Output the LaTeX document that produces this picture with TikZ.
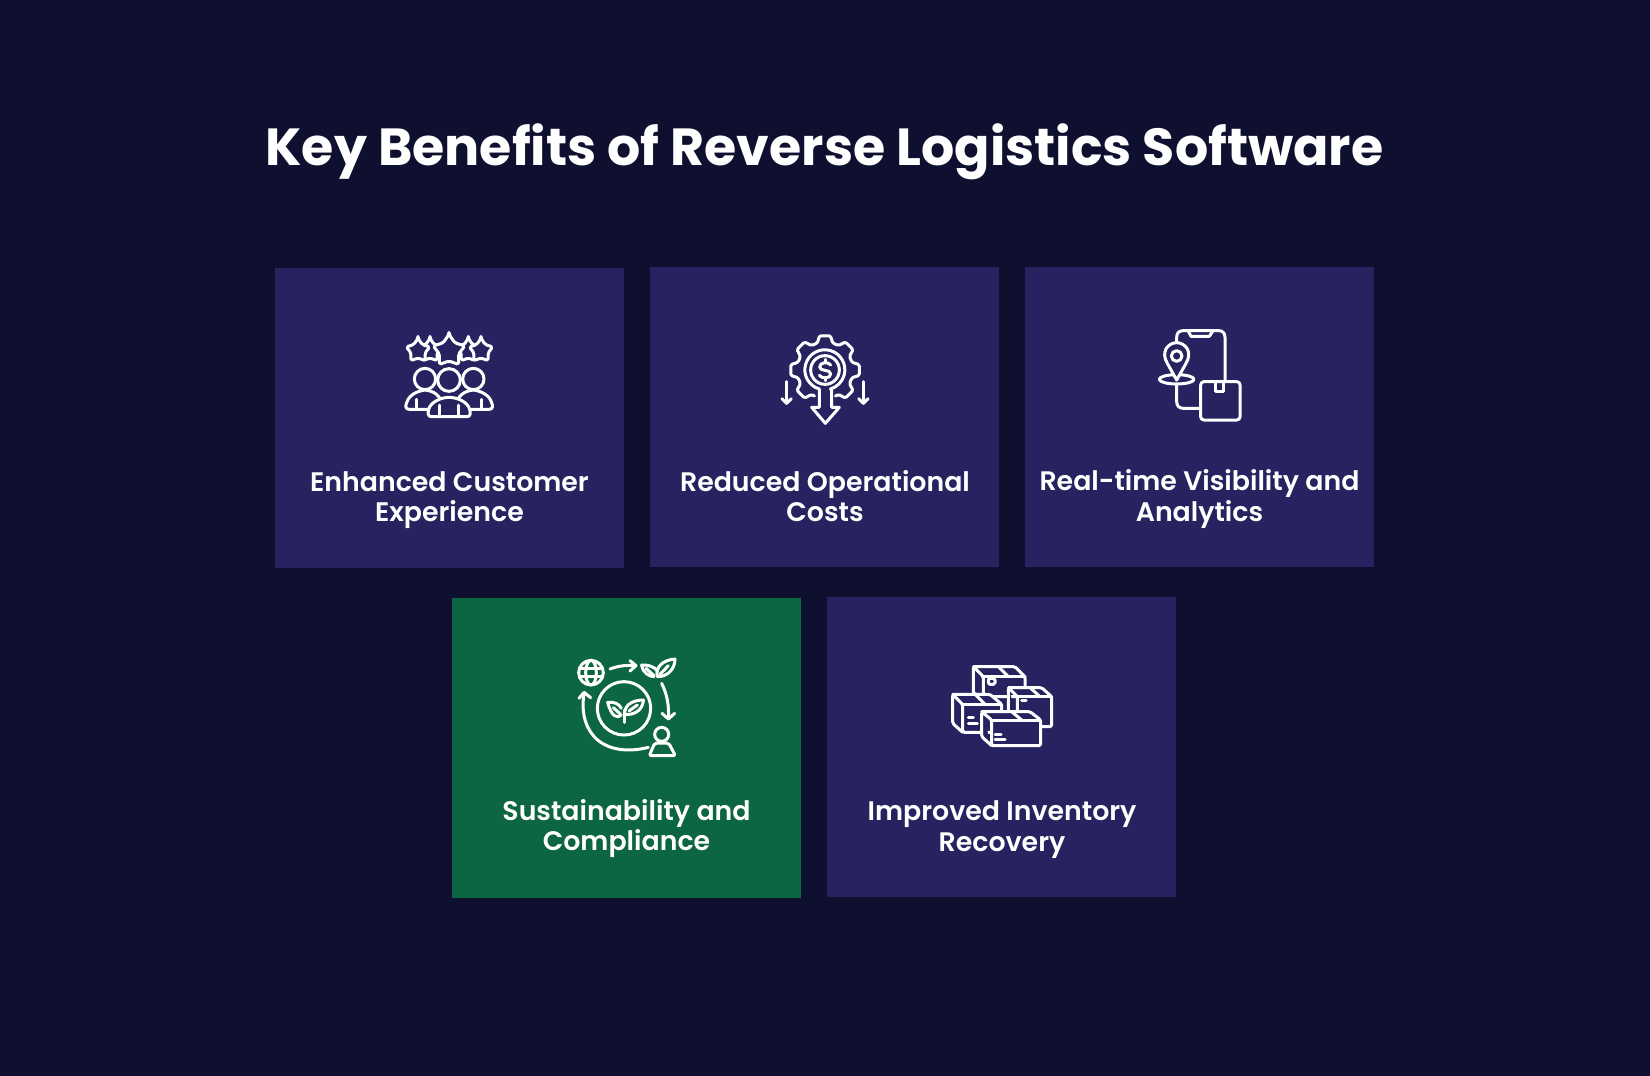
\documentclass[tikz,border=0pt]{standalone}
\usepackage{fontspec}
\setmainfont{Poppins}[BoldFont={Poppins SemiBold}]
\newfontfamily\titlefont{Poppins}[UprightFont={* Bold}]
\definecolor{pagebg}{RGB}{15,15,48}
\definecolor{cardblue}{RGB}{39,35,96}
\definecolor{cardgreen}{RGB}{13,102,66}
\usetikzlibrary{calc}
\tikzset{
  card/.style={minimum width=174.5pt,minimum height=150pt,inner sep=0pt},
  cardlabel/.style={text=white,align=center,inner sep=0pt,font=\fontsize{13.4}{15.25}\selectfont\bfseries},
  icon/.style={x=0.16667pt,y=-0.16667pt,draw=white,line width=1.5pt,line cap=round,line join=round},
}
% star centred at #1,#2 with radius #3
\newcommand{\ratestar}[3]{\draw[fill=cardblue,rounded corners=0.9pt] ($(#1,#2)+(-90:#3)$)
  \foreach \k in {0,...,4}{ -- ($(#1,#2)+({-90+72*\k}:#3)$) -- ($(#1,#2)+({-54+72*\k}:{#3*0.6})$)} -- cycle;}
\begin{document}
\begin{tikzpicture}[x=0.5pt,y=-0.5pt]
	\useasboundingbox (0,0) rectangle (1650,1076);
	\fill[pagebg] (0,0) rectangle (1650,1076);
	\node[text=white,inner sep=0pt,font=\fontsize{26.1}{30}\titlefont] (title) at (824.5,152) {Key Benefits of Reverse Logistics Software};

	\node[card,fill=cardblue] (customer) at (449.5,418) {};
	\node[card,fill=cardblue] (costs) at (824.5,417) {};
	\node[card,fill=cardblue] (visibility) at (1199.5,417) {};
	\node[card,fill=cardgreen] (sustain) at (626.5,748) {};
	\node[card,fill=cardblue] (inventory) at (1001.5,747) {};

	\node[cardlabel] (customerlabel) at (449.5,500) {Enhanced Customer\\Experience};
	\node[cardlabel] (costslabel) at (825,496) {Reduced Operational\\Costs};
	\node[cardlabel] (visibilitylabel) at (1199.5,499) {Real-time Visibility and\\Analytics};
	\node[cardlabel] (sustainlabel) at (626.5,828.5) {Sustainability and\\Compliance};
	\node[cardlabel] (inventorylabel) at (1002,829.5) {Improved Inventory\\Recovery};

	% stars and people
	\begin{scope}[shift={(380,310)},icon]
	\ratestar{150}{122}{37}
	\ratestar{265}{122}{37}
	\ratestar{114}{122}{37}
	\ratestar{303}{122}{37}
	\ratestar{207}{123}{50}
	\draw[fill=cardblue] (110,298) -- (88,298) .. controls (76,298) and (76,288) .. (80,278) .. controls (88,252) and (115,243) .. (135,240) .. controls (158,243) and (185,252) .. (190,298) -- cycle;
	\draw[fill=cardblue] (305,298) -- (327,298) .. controls (339,298) and (339,288) .. (335,278) .. controls (327,252) and (300,243) .. (280,240) .. controls (257,243) and (230,252) .. (225,298) -- cycle;
	\draw (110,268) -- (110,296);
	\draw (305,268) -- (305,296);
	\draw[fill=cardblue] (135,207) circle (32);
	\draw[fill=cardblue] (280,207) circle (32);
	\draw[fill=cardblue] (155,320) .. controls (143,320) and (143,310) .. (146,298) .. controls (152,275) and (185,262) .. (207,262) .. controls (230,262) and (263,275) .. (269,298) .. controls (272,310) and (272,320) .. (260,320) -- cycle;
	\draw (178,285) -- (178,318);
	\draw (235,285) -- (235,318);
	\draw[fill=cardblue] (207,210) circle (34);
	\end{scope}

	% gear, coin and arrows
	\begin{scope}[shift={(760,320)},icon]
	\begin{scope}[shift={(195,150)},rounded corners=0.7pt]
	\draw (112:84) \foreach \a in {135,180,225,270,315,360,405}{ -- ({\a-16}:84) -- ({\a-9}:104) -- ({\a+9}:104) -- ({\a+16}:84)} -- (428:84);
	\end{scope}
	\draw (178,207) arc[start angle=106,end angle=434,radius=60];
	\draw (195,150) circle (43);
	\draw (212,135) .. controls (205,124) and (179,126) .. (179,141) .. controls (179,156) and (212,146) .. (212,162) .. controls (212,176) and (186,178) .. (178,166);
	\draw (195,118) -- (195,127);
	\draw (195,173) -- (195,182);
	\draw (178,207) -- (178,262) -- (155,262) -- (196,310) -- (238,262) -- (215,262) -- (215,207);
	\draw (80,185) -- (80,250);
	\draw (66,236) -- (80,250) -- (94,236);
	\draw (310,185) -- (310,250);
	\draw (296,236) -- (310,250) -- (324,236);
	\end{scope}

	% phone, pin and parcel
	\begin{scope}[shift={(1140,320)},icon]
	\draw (110,70) -- (110,52) .. controls (110,38) and (118,32) .. (130,32) -- (235,32) .. controls (247,32) and (255,38) .. (255,52) -- (255,185);
	\draw (110,195) -- (110,245) .. controls (110,258) and (118,265) .. (130,265) -- (182,265);
	\draw (145,34) -- (153,49) -- (208,49) -- (218,34);
	\draw (110,178) ellipse (52 and 14);
	\draw[fill=cardblue] (110,180) -- (83,132) .. controls (60,95) and (85,68) .. (110,68) .. controls (135,68) and (160,95) .. (137,132) -- cycle;
	\draw (110,108) circle (16);
	\draw[rounded corners=1.6pt] (182,185) rectangle (300,300);
	\draw (227,185) -- (227,215) -- (250,215) -- (250,185);
	\end{scope}

	% globe, leaves and person
	\begin{scope}[shift={(560,645)},icon]
	\draw (93,83) circle (37);
	\draw (93,83) ellipse (16 and 37);
	\draw (60,71) -- (126,71);
	\draw (60,95) -- (126,95);
	\draw (150,72) .. controls (175,62) and (200,60) .. (226,62);
	\draw (210,47) -- (228,62) -- (210,78);
	\draw (282,95) .. controls (270,95) and (248,85) .. (245,60) .. controls (260,58) and (285,65) .. (292,78);
	\draw (292,95) .. controls (285,65) and (310,45) .. (345,42) .. controls (345,70) and (325,95) .. (292,95) -- cycle;
	\draw (258,70) -- (282,92);
	\draw (300,88) -- (325,62);
	\draw (305,115) .. controls (320,145) and (328,180) .. (325,220);
	\draw (306,205) -- (325,222) -- (344,205);
	\draw (192,190) circle (80);
	\draw (184,210) .. controls (172,222) and (154,215) .. (143,172) .. controls (160,170) and (177,175) .. (184,190);
	\draw (194,208) .. controls (192,185) and (212,165) .. (250,165) .. controls (250,190) and (227,212) .. (194,208) -- cycle;
	\draw (192,195) -- (192,232);
	\draw (160,188) -- (182,208);
	\draw (207,198) -- (232,180);
	\draw (265,307) .. controls (200,324) and (135,314) .. (100,272) .. controls (70,237) and (65,190) .. (72,145);
	\draw (57,160) -- (72,142) -- (92,158);
	\draw (305,268) circle (21);
	\draw[rounded corners=1pt] (268,332) -- (284,294) -- (326,294) -- (346,332) -- cycle;
	\end{scope}

	% stacked parcels
	\begin{scope}[shift={(940,655)},icon]
	\draw[fill=cardblue,rounded corners=0.8pt] (100,35) -- (225,35) -- (255,65) -- (255,125) -- (130,125) -- (130,65) -- (100,35) -- (100,115) -- (130,125);
	\draw (130,65) -- (255,65);
	\draw (175,35) -- (205,65);
	\draw[rounded corners=0.8pt] (145,70) rectangle (165,88);
	\draw[fill=cardblue,rounded corners=0.8pt] (205,98) -- (305,98) -- (335,125) -- (335,215) -- (232,215) -- (232,125) -- (205,98) -- (205,170) -- (232,190);
	\draw (232,125) -- (335,125);
	\draw (270,98) -- (300,125);
	\draw (245,137) -- (258,137);
	\draw[fill=cardblue,rounded corners=0.8pt] (38,118) -- (150,118) -- (185,148) -- (185,232) -- (68,232) -- (68,148) -- (38,118) -- (38,205) -- (68,232);
	\draw (68,148) -- (185,148);
	\draw (105,118) -- (135,148);
	\draw (85,187) -- (100,187);
	\draw (85,205) -- (112,205);
	\draw[fill=cardblue,rounded corners=0.8pt] (125,170) -- (270,170) -- (302,195) -- (302,272) -- (155,272) -- (155,195) -- (125,170) -- (125,245) -- (155,272);
	\draw (155,195) -- (302,195);
	\draw (215,170) -- (245,195);
	\draw (165,237) -- (183,237);
	\draw (165,252) -- (195,252);
	\end{scope}
\end{tikzpicture}
\end{document}
